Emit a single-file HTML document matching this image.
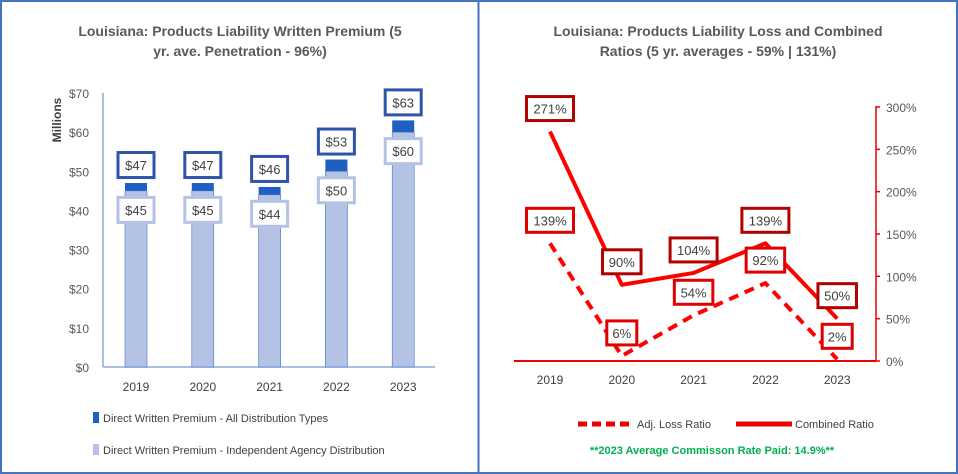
<!DOCTYPE html>
<html><head><meta charset="utf-8"><style>
html,body{margin:0;padding:0;background:#fff}
svg{display:block;font-family:"Liberation Sans",sans-serif}
</style></head><body>
<svg width="958" height="474" viewBox="0 0 958 474">
<rect x="1" y="1" width="956" height="472" fill="#fff" stroke="#4472c4" stroke-width="2"/>
<line x1="478.5" y1="0" x2="478.5" y2="474" stroke="#4472c4" stroke-width="2"/>
<g font-weight="bold" font-size="14" fill="#595959" text-anchor="middle">
<text x="240" y="36">Louisiana: Products Liability Written Premium (5</text>
<text x="240" y="56">yr. ave. Penetration - 96%)</text>
<text x="718" y="36">Louisiana: Products Liability Loss and Combined</text>
<text x="718" y="56">Ratios (5 yr. averages - 59% | 131%)</text>
</g>
<g id="left"></g>
<g id="right"></g>
<g font-size="11" fill="#404040">
<rect x="93" y="412" width="6" height="11" fill="#1f5fbf"/>
<text x="103" y="422" fill="#404040">Direct Written Premium - All Distribution Types</text>
<rect x="93" y="444" width="6" height="11" fill="#b4c2e6"/>
<text x="103" y="454" fill="#404040">Direct Written Premium - Independent Agency Distribution</text>
</g>
<g font-size="11" fill="#404040">
<line x1="578" y1="424" x2="634" y2="424" stroke="#e00" stroke-width="5" stroke-dasharray="9,5"/>
<text x="637" y="428" fill="#404040">Adj. Loss Ratio</text>
<line x1="736" y1="424" x2="792" y2="424" stroke="#e00" stroke-width="5"/>
<text x="795" y="428" fill="#404040">Combined Ratio</text>
<text x="712" y="454" text-anchor="middle" font-weight="bold" fill="#00b050">**2023 Average Commisson Rate Paid: 14.9%**</text>
</g>
</svg>
<script>
const years=["2019","2020","2021","2022","2023"];
const allDist=[47,47,46,53,63];
const indep=[45,45,44,50,60];
const leftTicks=["$0","$10","$20","$30","$40","$50","$60","$70"];
const lossRatio=[139,6,54,92,2];
const combinedRatio=[271,90,104,139,50];
const rightTicks=["0%","50%","100%","150%","200%","250%","300%"];

const NS="http://www.w3.org/2000/svg";
function mk(parent,tag,attrs,text){const e=document.createElementNS(NS,tag);for(const k in attrs)e.setAttribute(k,attrs[k]);if(text!==undefined)e.textContent=text;parent.appendChild(e);return e;}

// Left chart
const L=document.getElementById('left');
const ly=v=>367-v*(274/70);
const lx=i=>136+i*66.8;
mk(L,'line',{x1:103,y1:93,x2:103,y2:367,stroke:'#8faadc','stroke-width':1.5});
mk(L,'line',{x1:103,y1:367,x2:435,y2:367,stroke:'#8faadc','stroke-width':1.5});
leftTicks.forEach((t,i)=>{
  const e=mk(L,'text',{x:89,y:ly(i*10)+5,'text-anchor':'end','font-size':12,fill:'#595959'},t);
  
  
});
const yt=mk(L,'text',{x:0,y:0,transform:'translate(61,120) rotate(-90)','text-anchor':'middle','font-size':12,'font-weight':'bold',fill:'#404040'},'Millions');


years.forEach((y,i)=>{
  const cx=lx(i);
  const xl=mk(L,'text',{x:cx,y:391,'text-anchor':'middle','font-size':12,fill:'#404040'},y);
  
  
  const b1=mk(L,'rect',{x:cx-11,y:ly(allDist[i]),width:22,height:ly(0)-ly(allDist[i]),fill:'#1f5fbf'});
  
  
  const b2=mk(L,'rect',{x:cx-11,y:ly(indep[i]),width:22,height:ly(0)-ly(indep[i]),fill:'#b4c2e6',stroke:'#4472c4','stroke-width':0.6});
  
  
  const ty=ly(allDist[i])-18;
  const bx=mk(L,'rect',{x:cx-18,y:ty-12.5,width:36,height:25,fill:'#fff',stroke:'#2f55a8','stroke-width':3});
  
  
  const tx=mk(L,'text',{x:cx,y:ty+5,'text-anchor':'middle','font-size':13,fill:'#404040'},'$'+allDist[i]);
  
  
  const iy=ly(indep[i])+19;
  const bx2=mk(L,'rect',{x:cx-18,y:iy-12.5,width:36,height:25,fill:'#fff',stroke:'#b4c2e6','stroke-width':3});
  
  
  const tx2=mk(L,'text',{x:cx,y:iy+5,'text-anchor':'middle','font-size':13,fill:'#404040'},'$'+indep[i]);
  
  
});

// Right chart
const R=document.getElementById('right');
const ry=v=>361-v*(254/300);
const rx=i=>550+i*71.8;
mk(R,'line',{x1:514,y1:361,x2:876,y2:361,stroke:'#e00','stroke-width':2});
mk(R,'line',{x1:876,y1:106,x2:876,y2:361,stroke:'#e00','stroke-width':1.5});
rightTicks.forEach((t,i)=>{
  const v=i*50;
  mk(R,'line',{x1:876,y1:ry(v),x2:880,y2:ry(v),stroke:'#e00','stroke-width':1.5});
  const e=mk(R,'text',{x:886,y:ry(v)+5,'font-size':12,fill:'#595959'},t);
  
  
});
years.forEach((y,i)=>{
  const e=mk(R,'text',{x:rx(i),y:384,'text-anchor':'middle','font-size':12,fill:'#404040'},y);
  
  
});
const cpts=combinedRatio.map((v,i)=>rx(i)+','+ry(v)).join(' ');
const lpts=lossRatio.map((v,i)=>rx(i)+','+ry(v)).join(' ');
const cl=mk(R,'polyline',{points:cpts,fill:'none',stroke:'#f00','stroke-width':4,'stroke-linejoin':'round'});


const ll=mk(R,'polyline',{points:lpts,fill:'none',stroke:'#f00','stroke-width':4,'stroke-dasharray':'10,7'});


function lab(x,y,txt,col,name){
  const w=txt.length*8.5+13;
  const b=mk(R,'rect',{x:x-w/2,y:y-12,width:w,height:24,fill:'#fff',stroke:col,'stroke-width':3});
  
  
  const t=mk(R,'text',{x:x,y:y+5,'text-anchor':'middle','font-size':13,fill:'#404040'},txt);
  
  
}
combinedRatio.forEach((v,i)=>{
  lab(rx(i),ry(v)-23,v+'%','#b00000','combined-value-label');
});
lossRatio.forEach((v,i)=>{
  lab(rx(i),ry(v)-23,v+'%','#e00000','loss-value-label');
});
</script>
</body></html>
